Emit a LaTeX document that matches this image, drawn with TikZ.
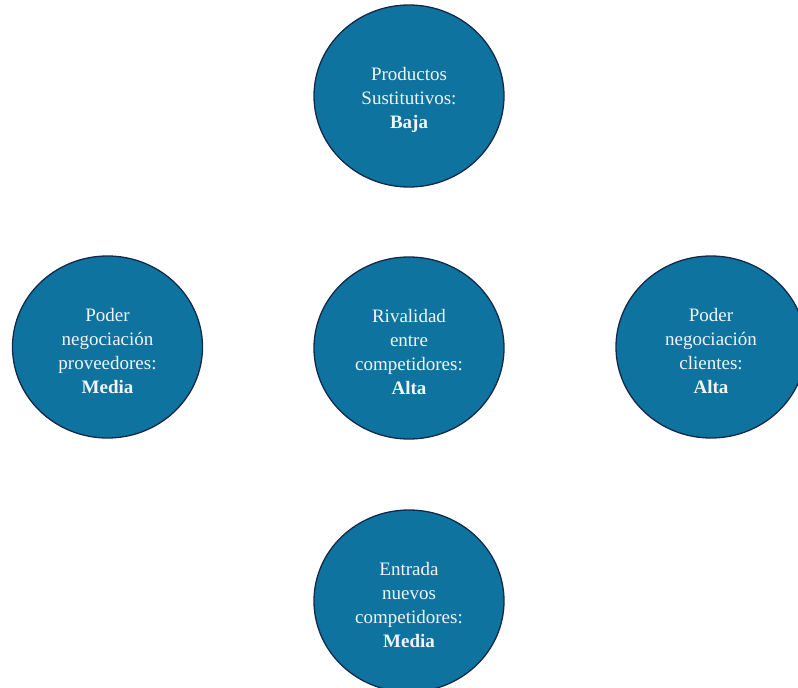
\documentclass[tikz,border=0pt]{standalone}
\usepackage{fontspec}
\setmainfont{Liberation Serif}
\usetikzlibrary{shapes.geometric}
\definecolor{forcefill}{HTML}{0E749F}
\definecolor{forceedge}{HTML}{14294A}
\definecolor{forceink}{HTML}{F2F4F6}
\tikzset{
  force/.style={ellipse, draw=forceedge, line width=1.3pt, fill=forcefill,
    minimum width=190pt, minimum height=182pt, inner sep=0pt},
  forcelabel/.style={align=center, text=forceink, yshift=-4pt, inner sep=0pt,
    font=\fontsize{19}{24}\selectfont}
}
\begin{document}
\begin{tikzpicture}[x=1pt,y=-1pt]
  \useasboundingbox (0,0) rectangle (798,688);
  \clip (0,0) rectangle (798,688);
  \fill[white] (0,0) rectangle (798,688);
  % the five forces, each a filled circle with its caption on top
  \node[force] (sust) at (409,96) {};
  \node[forcelabel] (sustT) at (sust.center) {Productos\\Sustitutivos:\\\textbf{Baja}};
  \node[force] (riv) at (409,348) {};
  \node[forcelabel] (rivT) at (riv.center) {Rivalidad\\entre\\competidores:\\\textbf{Alta}};
  \node[force] (prov) at (107.5,347) {};
  \node[forcelabel] (provT) at (prov.center) {Poder\\negociación\\proveedores:\\\textbf{Media}};
  \node[force] (cli) at (711,347) {};
  \node[forcelabel] (cliT) at (cli.center) {Poder\\negociación\\clientes:\\\textbf{Alta}};
  \node[force] (ent) at (409,601) {};
  \node[forcelabel] (entT) at (ent.center) {Entrada\\nuevos\\competidores:\\\textbf{Media}};
\end{tikzpicture}
\end{document}
